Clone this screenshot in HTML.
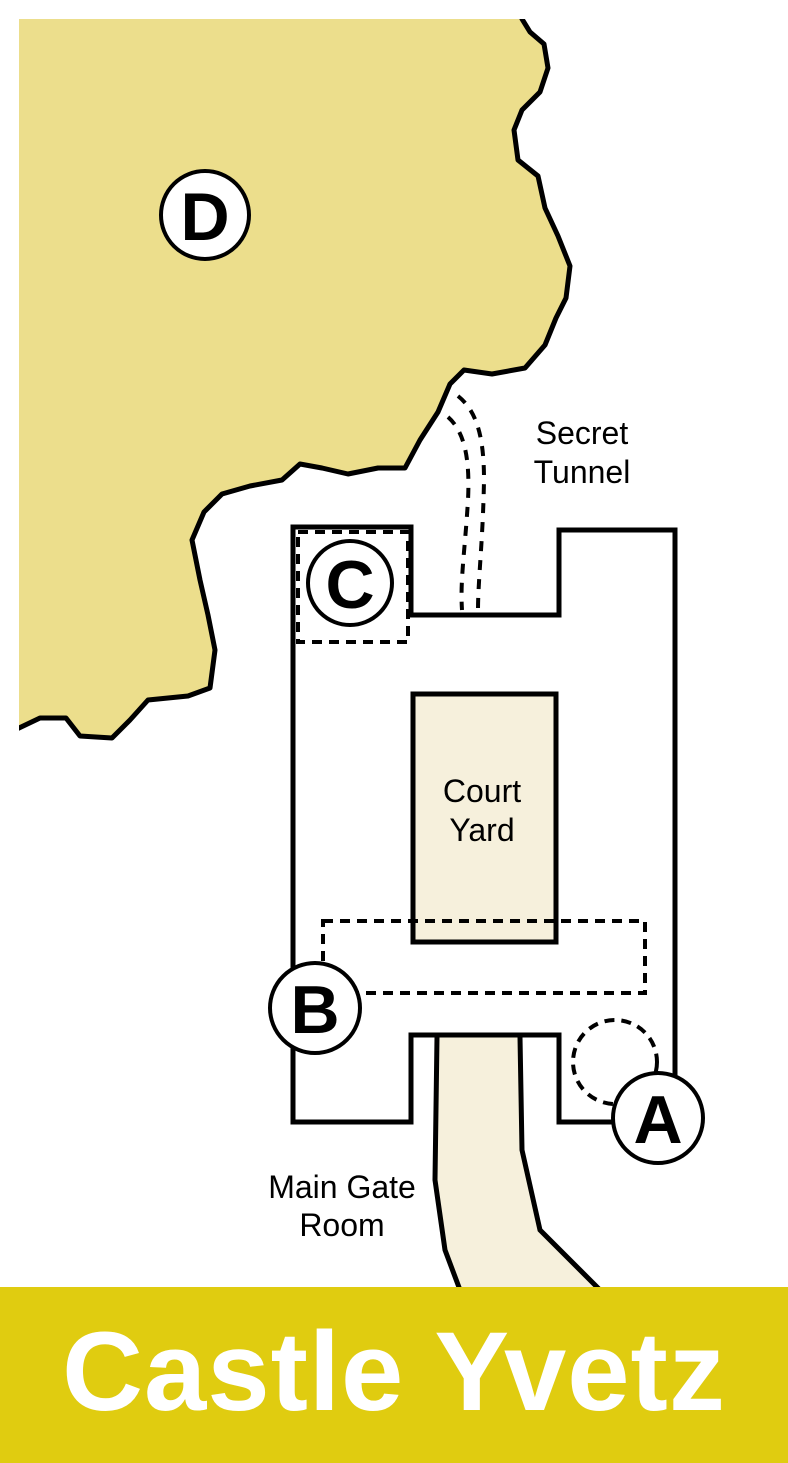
<!DOCTYPE html>
<html><head><style>
html,body{margin:0;padding:0;background:#fff;}
body{width:788px;height:1463px;position:relative;overflow:hidden;font-family:"Liberation Sans",sans-serif;}
</style></head><body>
<svg width="788" height="1463" viewBox="0 0 788 1463" xmlns="http://www.w3.org/2000/svg" style="position:absolute;left:0;top:0">
<defs><clipPath id="cl"><rect x="19" y="19" width="700" height="800"/></clipPath></defs>
<!-- forest -->
<path clip-path="url(#cl)" d="M5,5 L518,5 L522,19 L530,32 L544,44 L548,68 L540,92 L522,110 L514,130 L518,160 L538,176 L545,208 L558,236 L570,266 L566,298 L556,318 L545,345 L525,368 L492,374 L464,370 L450,384 L438,412 L420,440 L405,468 L378,468 L348,474 L322,468 L300,464 L282,480 L250,486 L222,494 L204,512 L192,540 L200,580 L208,615 L215,650 L210,688 L188,696 L148,700 L130,720 L112,738 L80,736 L66,718 L40,718 L19,728 L5,735 Z" fill="#ecde8c" stroke="#000" stroke-width="5" stroke-linejoin="round"/>
<!-- road -->
<path d="M437,1037 L435,1180 L445,1250 L460,1290 L600,1290 L540,1230 L522,1150 L520,1037 Z" fill="#f6f0dc"/>
<path d="M437,1037 L435,1180 L445,1250 L460,1290 M520,1037 L522,1150 L540,1230 L600,1290" fill="none" stroke="#000" stroke-width="5"/>
<!-- castle -->
<path d="M293,527 L411,527 L411,615 L559,615 L559,530 L675,530 L675,1122 L559,1122 L559,1035 L411,1035 L411,1122 L293,1122 Z" fill="#fff" stroke="#000" stroke-width="5"/>
<rect x="413" y="694" width="143" height="248" fill="#f6f0dc" stroke="#000" stroke-width="5"/>
<!-- tunnel -->
<path d="M448,417 C465,432 470,460 468,500 C465,550 460,580 462,610" fill="none" stroke="#000" stroke-width="4" stroke-dasharray="10,9"/>
<path d="M458,396 C478,412 484,440 484,480 C483,540 478,580 478,610" fill="none" stroke="#000" stroke-width="4" stroke-dasharray="10,9"/>
<!-- dashed areas -->
<rect x="298" y="532" width="110" height="110" fill="none" stroke="#000" stroke-width="4" stroke-dasharray="10,7"/>
<rect x="323" y="921" width="322" height="72" fill="none" stroke="#000" stroke-width="4" stroke-dasharray="10,7"/>
<circle cx="615" cy="1062" r="42" fill="none" stroke="#000" stroke-width="4" stroke-dasharray="10,7"/>
<!-- labels -->
<g font-family="Liberation Sans, sans-serif" font-weight="bold" text-anchor="middle" font-size="68">
<circle cx="205" cy="215" r="44" fill="#fff" stroke="#000" stroke-width="4"/><text x="205" y="240">D</text>
<circle cx="350" cy="583" r="42" fill="#fff" stroke="#000" stroke-width="4"/><text x="350" y="608">C</text>
<circle cx="315" cy="1008" r="45" fill="#fff" stroke="#000" stroke-width="4"/><text x="315" y="1033">B</text>
<circle cx="658" cy="1118" r="45" fill="#fff" stroke="#000" stroke-width="4"/><text x="658" y="1143">A</text>
</g>
<g font-family="Liberation Sans, sans-serif" text-anchor="middle" font-size="32">
<text x="582" y="444">Secret</text><text x="582" y="483">Tunnel</text>
<text x="482" y="802">Court</text><text x="482" y="841">Yard</text>
<text x="342" y="1198">Main Gate</text><text x="342" y="1236">Room</text>
</g>
<rect x="0" y="1287" width="788" height="176" fill="#e0cc10"/>
<text x="394" y="1410" text-anchor="middle" font-family="Liberation Sans, sans-serif" font-weight="bold" font-size="112" letter-spacing="1" fill="#fff">Castle Yvetz</text>
</svg>
</body></html>
